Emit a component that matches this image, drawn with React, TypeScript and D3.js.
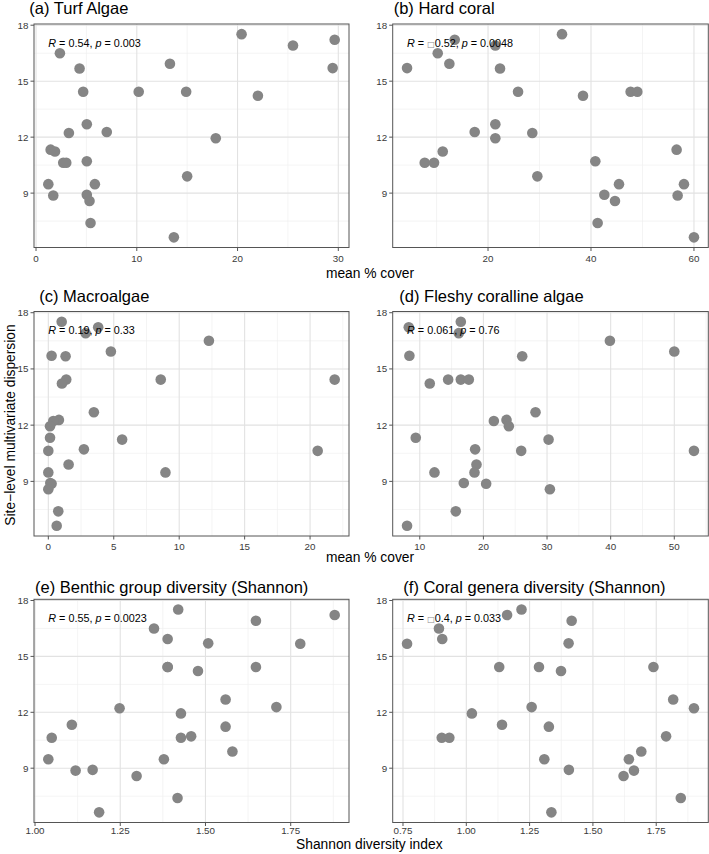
import React from 'react';
import * as d3 from 'd3';

// site-level multivariate dispersion, one value per site (shared y of every panel)
const dispersion = [17.52, 17.22, 16.91, 16.5, 15.93, 15.7, 15.68, 14.43, 14.43, 14.43, 14.22, 12.69, 12.28, 12.22,
  11.94, 11.33, 11.23, 10.63, 10.63, 10.71, 9.9, 9.48, 9.48, 8.91, 8.87, 8.58, 7.4, 6.63];

// mean % cover per site, same site order as dispersion
const turfAlgae = [20.4, 29.64, 25.5, 2.37, 13.29, 29.44, 4.32, 4.68, 10.19, 14.9, 22.02, 5.04, 7.02, 3.26,
  17.84, 1.45, 1.88, 2.7, 3.0, 5.04, 15.0, 1.22, 5.84, 5.04, 1.71, 5.31, 5.41, 13.68];
const hardCoral = [34.37, 13.53, 21.42, 10.23, 12.49, 4.27, 22.33, 25.83, 47.7, 49.0, 38.45, 21.42, 17.41, 28.6,
  21.42, 56.63, 11.2, 7.7, 9.51, 40.84, 29.58, 45.44, 58.06, 42.59, 56.83, 44.66, 41.29, 60.0];
const macroalgae = [1.02, 3.81, 2.85, 12.27, 4.78, 0.25, 1.32, 1.37, 8.59, 21.88, 1.04, 3.48, 0.81, 0.38,
  0.13, 0.13, 5.64, 0.0, 20.58, 2.72, 1.55, 0.0, 8.95, 0.15, 0.25, 0.0, 0.76, 0.64];
const fleshyCoralline = [16.45, 8.27, 16.13, 39.88, 50.0, 8.37, 26.1, 14.46, 16.45, 17.71, 11.57, 28.19, 23.63, 21.64,
  24.0, 9.37, 30.24, 25.94, 53.09, 18.7, 18.91, 12.31, 18.6, 16.92, 20.43, 30.45, 15.66, 8.0];

// Shannon diversity per site
const benthicShannon = [1.42, 1.879, 1.648, 1.349, 1.389, 1.508, 1.778, 1.389, 1.648, 1.389, 1.478, 1.559, 1.708, 1.248,
  1.428, 1.108, 1.559, 1.049, 1.428, 1.458, 1.579, 1.039, 1.378, 1.169, 1.119, 1.298, 1.418, 1.188];
const coralShannon = [1.218, 1.161, 1.416, 0.892, 0.905, 1.404, 0.766, 1.13, 1.287, 1.739, 1.374, 1.817, 1.258, 1.899,
  1.022, 1.141, 1.326, 0.903, 0.933, 1.789, 1.691, 1.308, 1.642, 1.405, 1.662, 1.621, 1.847, 1.336];

// correlation stats printed in each panel (a..f)
const corrR = [0.54, -0.52, 0.19, 0.061, 0.55, -0.4];
const corrP = ['0.003', '0.0048', '0.33', '0.76', '0.0023', '0.033'];

const titles = ['(a) Turf Algae', '(b) Hard coral', '(c) Macroalgae', '(d) Fleshy coralline algae',
  '(e) Benthic group diversity (Shannon)', '(f) Coral genera diversity (Shannon)'];

// tick labels
const yTicks = [9, 12, 15, 18];
const turfTicks = [0, 10, 20, 30];
const coralTicks = [20, 40, 60];
const macroTicks = [0, 5, 10, 15, 20];
const fleshyTicks = [10, 20, 30, 40, 50];
const benthicTicks = [1.0, 1.25, 1.5, 1.75];
const generaTicks = [0.75, 1.0, 1.25, 1.5, 1.75];

const FONT = '"Liberation Sans", Arial, Helvetica, sans-serif';

// ggplot-like 5% expansion of the data range
function expand(vals: number[]): [number, number] {
  const [lo, hi] = d3.extent(vals) as [number, number];
  const pad = (hi - lo) * 0.05;
  return [lo - pad, hi + pad];
}

// minor breaks halfway between majors (one step extended each side)
function minorBreaks(ticks: number[], domain: [number, number]) {
  const step = ticks[1] - ticks[0];
  const b = [ticks[0] - step, ...ticks, ticks[ticks.length - 1] + step];
  const out: number[] = [];
  for (let i = 0; i < b.length - 1; i++) {
    const m = (b[i] + b[i + 1]) / 2;
    if (m > domain[0] && m < domain[1]) out.push(m);
  }
  return out;
}

type PanelProps = {
  title: string;
  xs: number[];
  ticks: number[];
  fmt: (n: number) => string;
  r: number;
  p: string;
  box: { left: number; right: number; top: number; bottom: number };
  titlePos: [number, number];
  tickGap: number;
};

function Panel({ title, xs, ticks, fmt, r, p, box, titlePos, tickGap }: PanelProps) {
  const xDom = expand(xs);
  const yDom = expand(dispersion);
  const x = d3.scaleLinear().domain(xDom).range([box.left, box.right]);
  const y = d3.scaleLinear().domain(yDom).range([box.bottom, box.top]);
  const xMinor = minorBreaks(ticks, xDom);
  const yMinor = minorBreaks(yTicks, yDom);
  const rText = r < 0 ? String(-r) : String(r);
  const statX = x(d3.min(xs) as number);

  return (
    <g fontFamily={FONT}>
      <text x={titlePos[0]} y={titlePos[1]} fontSize={16.5} fill="#000">{title}</text>
      <rect x={box.left} y={box.top} width={box.right - box.left} height={box.bottom - box.top} fill="#fff" />
      {xMinor.map(v => (
        <line key={'xm' + v} x1={x(v)} x2={x(v)} y1={box.top} y2={box.bottom} stroke="#efefef" strokeWidth={0.7} />
      ))}
      {yMinor.map(v => (
        <line key={'ym' + v} x1={box.left} x2={box.right} y1={y(v)} y2={y(v)} stroke="#efefef" strokeWidth={0.7} />
      ))}
      {ticks.map(v => (
        <line key={'xg' + v} x1={x(v)} x2={x(v)} y1={box.top} y2={box.bottom} stroke="#e2e2e2" strokeWidth={1.1} />
      ))}
      {yTicks.map(v => (
        <line key={'yg' + v} x1={box.left} x2={box.right} y1={y(v)} y2={y(v)} stroke="#e2e2e2" strokeWidth={1.1} />
      ))}
      {xs.map((v, i) => (
        <circle key={i} cx={x(v)} cy={y(dispersion[i])} r={5.3} fill="#858585" />
      ))}
      <text x={statX} y={box.top + 22.8} fontSize={10.8} fill="#000">
        <tspan fontStyle="italic">R</tspan>
        {' = '}
        {r < 0 ? <tspan fill="#8a8a8a" fontSize={8} fontFamily='"DejaVu Sans", sans-serif'>{'\u25A1'}</tspan> : null}
        {rText + ', '}
        <tspan fontStyle="italic">p</tspan>
        {' = ' + p}
      </text>
      <rect x={box.left} y={box.top} width={box.right - box.left} height={box.bottom - box.top}
        fill="none" stroke="#555" strokeWidth={1} />
      {ticks.map(v => (
        <g key={'xt' + v}>
          <line x1={x(v)} x2={x(v)} y1={box.bottom} y2={box.bottom + 3.5} stroke="#555" />
          <text x={x(v)} y={box.bottom + tickGap} fontSize={9.8} textAnchor="middle" fill="#3a3a3a">{fmt(v)}</text>
        </g>
      ))}
      {yTicks.map(v => (
        <g key={'yt' + v}>
          <line x1={box.left - 3.5} x2={box.left} y1={y(v)} y2={y(v)} stroke="#555" />
          <text x={box.left - 5.5} y={y(v)} dy="0.35em" fontSize={9.8} textAnchor="end" fill="#3a3a3a">{v}</text>
        </g>
      ))}
    </g>
  );
}

export default function App() {
  const cols = [{ left: 34, right: 349 }, { left: 392.7, right: 708.3 }];
  const rows = [{ top: 24, bottom: 247.5 }, { top: 311.5, bottom: 536 }, { top: 599.3, bottom: 822.5 }];
  const tickGaps = [14.5, 14.3, 11.5];
  const intFmt = d3.format('d');
  const decFmt = d3.format('.2f');
  const series = [turfAlgae, hardCoral, macroalgae, fleshyCoralline, benthicShannon, coralShannon];
  const tickSets = [turfTicks, coralTicks, macroTicks, fleshyTicks, benthicTicks, generaTicks];
  const titlePos: [number, number][] = [[29.3, 14.3], [393.7, 14.3], [39.3, 301.7], [399.3, 302.3], [35, 592.7], [403.3, 592.7]];

  return (
    <svg width={709} height={854} style={{ position: 'absolute', left: 0, top: 0, background: '#fff' }}>
      <rect width={709} height={854} fill="#fff" />
      {series.map((xs, i) => (
        <Panel key={i} title={titles[i]} xs={xs} ticks={tickSets[i]} fmt={i >= 4 ? decFmt : intFmt}
          r={corrR[i]} p={corrP[i]} tickGap={tickGaps[Math.floor(i / 2)]}
          box={{ ...cols[i % 2], ...rows[Math.floor(i / 2)] }} titlePos={titlePos[i]} />
      ))}
      <g fontFamily={FONT} fontSize={13.8} fill="#000" textAnchor="middle">
        <text x={370} y={277.7}>mean % cover</text>
        <text x={370} y={561.7}>mean % cover</text>
        <text x={369.3} y={848.5}>Shannon diversity index</text>
        <text transform="translate(15,425) rotate(-90)">Site−level multivariate dispersion</text>
      </g>
    </svg>
  );
}
